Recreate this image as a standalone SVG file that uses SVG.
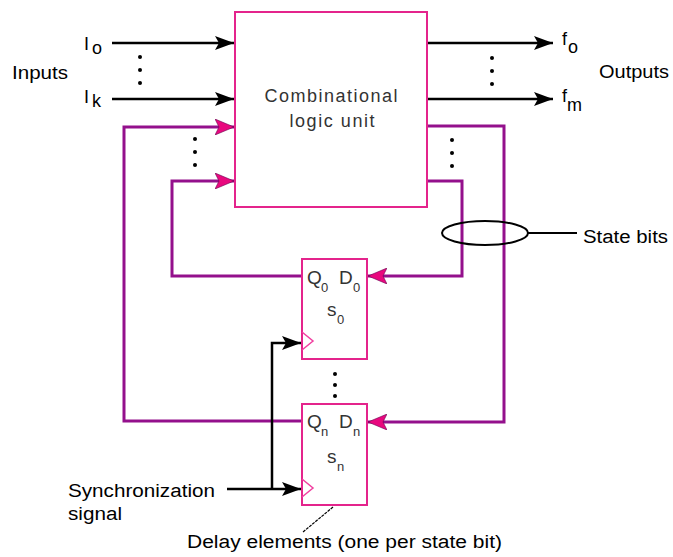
<svg xmlns="http://www.w3.org/2000/svg" width="673" height="557" viewBox="0 0 673 557">
<defs>
<style>
.box{fill:#fff;stroke:#e4248c;stroke-width:2}
.loop{fill:none;stroke:#94108c;stroke-width:3}
.wire{fill:none;stroke:#000;stroke-width:2.5}
.lbl{font-family:"Liberation Sans",Arial,sans-serif;fill:#000;font-size:18px}
.in{font-family:"Liberation Sans",Arial,sans-serif;fill:#333;font-size:18px}
.ff{font-family:"Liberation Sans",Arial,sans-serif;fill:#333;font-size:19px}
.sub{font-family:"Liberation Sans",Arial,sans-serif;fill:#333;font-size:13px}
.dot{fill:#000}
</style>
<marker id="ab" markerWidth="20" markerHeight="14" refX="19" refY="7" orient="auto" markerUnits="userSpaceOnUse">
<path d="M0,0 L19,7 L0,14 L4,7 Z" fill="#000"/>
</marker>
<marker id="am" markerWidth="20" markerHeight="16" refX="19" refY="8" orient="auto" markerUnits="userSpaceOnUse">
<path d="M0,0 L19,8 L0,16 L4,8 Z" fill="#e8087e" stroke="#6a0050" stroke-width="0.6"/>
</marker>
</defs>
<rect width="673" height="557" fill="#fff"/>

<g id="connectors">
<line class="wire" x1="112" y1="43" x2="234" y2="43" marker-end="url(#ab)"/>
<line class="wire" x1="112" y1="99" x2="234" y2="99" marker-end="url(#ab)"/>
<line class="wire" x1="427" y1="43" x2="553" y2="43" marker-end="url(#ab)"/>
<line class="wire" x1="427" y1="99" x2="553" y2="99" marker-end="url(#ab)"/>
<polyline class="loop" points="302,421 124,421 124,127 234,127" marker-end="url(#am)"/>
<polyline class="loop" points="302,276 172,276 172,181 234,181" marker-end="url(#am)"/>
<polyline class="loop" points="427,126 504,126 504,422 368,422" marker-end="url(#am)"/>
<polyline class="loop" points="427,181 462,181 462,276 368,276" marker-end="url(#am)"/>
<line class="wire" x1="227" y1="489" x2="301" y2="489" marker-end="url(#ab)"/>
<polyline class="wire" points="272,489 272,343 301,343" marker-end="url(#ab)"/>
<line x1="333" y1="507" x2="303" y2="532" stroke="#000" stroke-width="1.2" stroke-dasharray="3,1"/>
<ellipse cx="485" cy="233" rx="43" ry="12" fill="none" stroke="#000" stroke-width="2"/>
<line x1="528" y1="233" x2="577" y2="233" stroke="#000" stroke-width="2"/>
</g>

<g id="dots">
<circle class="dot" cx="140" cy="57" r="2"/><circle class="dot" cx="140" cy="70" r="2"/><circle class="dot" cx="140" cy="83" r="2"/>
<circle class="dot" cx="492" cy="58" r="2"/><circle class="dot" cx="492" cy="71" r="2"/><circle class="dot" cx="492" cy="84" r="2"/>
<circle class="dot" cx="195" cy="139" r="2"/><circle class="dot" cx="195" cy="152" r="2"/><circle class="dot" cx="195" cy="165" r="2"/>
<circle class="dot" cx="452" cy="140" r="2"/><circle class="dot" cx="452" cy="153" r="2"/><circle class="dot" cx="452" cy="166" r="2"/>
<circle class="dot" cx="335" cy="374" r="2"/><circle class="dot" cx="335" cy="385" r="2"/><circle class="dot" cx="335" cy="396" r="2"/>
</g>

<g id="combinational">
<rect class="box" x="235" y="12" width="192" height="195"/>
<text class="in" x="331" y="102" text-anchor="middle" textLength="133" lengthAdjust="spacing">Combinational</text>
<text class="in" x="332" y="127" text-anchor="middle" textLength="85" lengthAdjust="spacing">logic unit</text>
</g>

<g id="ff0">
<rect class="box" x="302" y="259" width="65" height="100"/>
<polyline points="302,332 313,341 302,350" fill="none" stroke="#f040a0" stroke-width="1.5"/>
<text class="ff" x="307" y="284">Q</text><text class="sub" x="321" y="292">0</text>
<text class="ff" x="339" y="284">D</text><text class="sub" x="353" y="292">0</text>
<text class="ff" x="327" y="316">s</text><text class="sub" x="337" y="324">0</text>
</g>

<g id="ffn">
<rect class="box" x="302" y="404" width="65" height="101"/>
<polyline points="302,479 313,488 302,497" fill="none" stroke="#f040a0" stroke-width="1.5"/>
<text class="ff" x="307" y="428">Q</text><text class="sub" x="321" y="436">n</text>
<text class="ff" x="339" y="428">D</text><text class="sub" x="353" y="436">n</text>
<text class="ff" x="327" y="463">s</text><text class="sub" x="337" y="471">n</text>
</g>

<g id="labels">
<text class="lbl" x="12" y="79" textLength="56" lengthAdjust="spacingAndGlyphs">Inputs</text>
<text class="lbl" x="84" y="50" font-size="20">I</text><text class="lbl" x="92" y="54" font-size="12">o</text>
<text class="lbl" x="84" y="103" font-size="20">I</text><text class="lbl" x="92" y="107" font-size="12">k</text>
<text class="lbl" x="562" y="45" font-size="17">f</text><text class="lbl" x="568" y="53" font-size="12">o</text>
<text class="lbl" x="562" y="102" font-size="17">f</text><text class="lbl" x="567" y="111" font-size="12">m</text>
<text class="lbl" x="599" y="78" textLength="70" lengthAdjust="spacingAndGlyphs">Outputs</text>
<text class="lbl" x="583" y="243" textLength="85" lengthAdjust="spacingAndGlyphs">State bits</text>
<text class="lbl" x="68" y="497" textLength="147" lengthAdjust="spacingAndGlyphs">Synchronization</text>
<text class="lbl" x="68" y="520" textLength="54" lengthAdjust="spacingAndGlyphs">signal</text>
<text class="lbl" x="187" y="548" textLength="315" lengthAdjust="spacingAndGlyphs">Delay elements (one per state bit)</text>
</g>
</svg>
